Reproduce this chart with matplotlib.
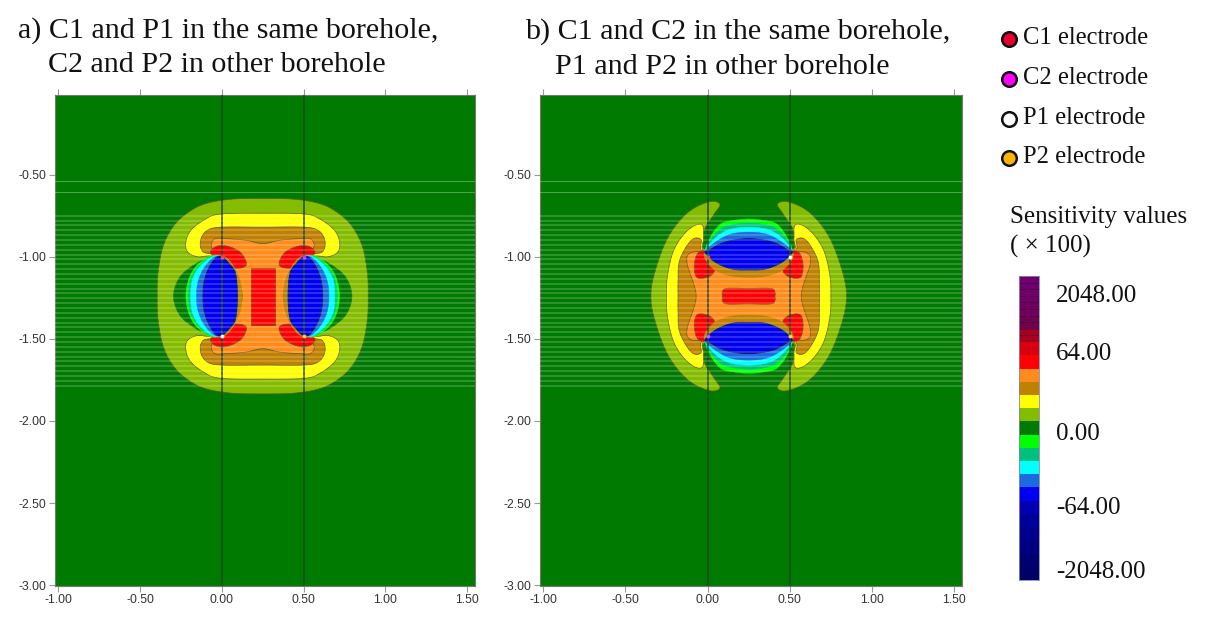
"""Borehole sensitivity sections for two electrode arrangements."""

import matplotlib

matplotlib.use("Agg")
import matplotlib.pyplot as plt
import numpy as np
from matplotlib.colors import ListedColormap

plt.rcParams["font.family"] = ["Liberation Serif", "DejaVu Serif"]

X_TICKS = [-1.0, -0.5, 0.0, 0.5, 1.0, 1.5]
Y_TICKS = [-0.5, -1.0, -1.5, -2.0, -2.5, -3.0]
BOREHOLES = [0.0, 0.5]
CENTER_A = (0.25, -1.24)
CENTER_B = (0.25, -1.24)

C_BG = "#007a00"
C_LIME = "#84bd00"
C_YELLOW = "#ffff00"
C_BROWN = "#c08000"
C_ORANGE = "#ff8c1a"
C_RED = "#ff0000"
C_GREEN = "#00ff00"
C_TEAL = "#00c080"
C_CYAN = "#00ffff"
C_MIDBLUE = "#1a6ae0"
C_BLUE = "#0000f0"

# contour outlines of one quadrant, as offsets (dx, dy) from the section centre
A_LIME = [(0, .595), (.2, .59), (.36, .56), (.47, .50), (.55, .42), (.61, .30), (.64, .14), (.645, 0)]
A_YELLOW = [(0, .505), (.26, .50), (.357, .465), (.44, .40), (.47, .33), (.46, .27), (.40, .24), (.28, .225), (.15, 0)]
A_BROWN = [(0, .42), (.25, .42), (.34, .40), (.38, .34), (.365, .27), (.27, .23), (.13, 0)]
A_ORANGE = [(0, .32), (.10, .34), (.22, .35), (.29, .35), (.315, .31), (.285, .26), (.19, .15), (.125, 0)]
A_RED_LOBE = [(.10, .19), (.14, .27), (.25, .31), (.32, .27), (.26, .20), (.17, .17)]
A_RED_BAR = [(0, .173), (.073, .173), (.073, 0)]

# half of a side lens, from its inner edge over the electrode tip to its outer edge
A_INNER = [(.155, 0), (.167, .14), (.207, .20), (.25, .24)]
A_LENS_BROWN = [(.125, 0), (.14, .10), (.19, .20), (.25, .245), (.32, .2), (.32, 0)]
A_LENS_DARK = A_INNER + [(.325, .23), (.405, .20), (.506, .118), (.546, 0)]
A_LENS_GREEN = A_INNER + [(.32, .245), (.40, .19), (.45, .11), (.47, 0)]
A_LENS_TEAL = A_INNER + [(.315, .24), (.39, .185), (.44, .105), (.455, 0)]
A_LENS_CYAN = A_INNER + [(.31, .24), (.385, .18), (.43, .10), (.44, 0)]
A_LENS_MIDBLUE = A_INNER + [(.30, .235), (.36, .17), (.395, .09), (.405, 0)]
A_LENS_BLUE = A_INNER + [(.29, .23), (.335, .16), (.36, .08), (.365, 0)]

B_LIME = [(0, .25), (.26, .28), (.27, .40), (.21, .50), (.175, .56), (.24, .575), (.37, .51), (.49, .36), (.57, .15), (.595, 0)]
B_YELLOW = [(0, .25), (.26, .27), (.275, .35), (.28, .43), (.33, .43), (.40, .37), (.46, .27), (.495, .12), (.50, 0)]
B_BROWN = [(0, .25), (.27, .27), (.29, .345), (.35, .34), (.42, .22), (.43, .09), (.43, 0)]
B_ORANGE = [(0, .25), (.27, .27), (.36, .26), (.375, .20), (.33, .06), (.32, 0)]
B_RED_LOBE = [(.21, .27), (.30, .27), (.33, .20), (.32, .12), (.27, .11), (.21, .15)]
B_RED_BAR = [(0, .047), (.135, .047), (.16, .025), (.16, 0)]

# half of a top lens, from its lower edge over the electrode tip to its upper edge
B_INNER = [(0, .16), (.10, .165), (.20, .205), (.265, .265)]
B_LENS_BROWN = [(0, .115), (.12, .125), (.22, .17), (.27, .26), (.15, .30), (0, .30)]
B_LENS_GREEN = B_INNER + [(.23, .365), (.17, .44), (.10, .46), (0, .47)]
B_LENS_TEAL = B_INNER + [(.232, .345), (.17, .41), (.10, .435), (0, .445)]
B_LENS_CYAN = B_INNER + [(.235, .32), (.17, .38), (.10, .41), (0, .42)]
B_LENS_MIDBLUE = B_INNER + [(.24, .30), (.17, .35), (.10, .38), (0, .39)]
B_LENS_BLUE = B_INNER + [(.24, .28), (.17, .32), (.10, .34), (0, .35)]

ELECTRODES_A = [(0.0, -1.0, "#e0405a"), (0.5, -1.0, "#d030ff"), (0.0, -1.48, "#ffffff"), (0.5, -1.48, "#ffc040")]
ELECTRODES_B = [(0.0, -1.0, "#e04050"), (0.5, -1.0, "#ffffff"), (0.0, -1.48, "#e030ff"), (0.5, -1.48, "#ffc040")]

BAR_COLORS = ["#000068", "#000070", "#000080", "#00008c", "#000098", "#0000b0", "#0000f0", C_MIDBLUE,
              C_CYAN, C_TEAL, C_GREEN, C_BG, C_LIME, C_YELLOW, C_BROWN, C_ORANGE, C_RED, "#d80010",
              "#a80020", "#700050", "#700060", "#700068", "#700070"]
BAR_LABELS = ["-2048.00", "-64.00", "0.00", "64.00", "2048.00"]
BAR_LABEL_POS = [0.8, 5.6, 11.2, 17.3, 21.7]

LEGEND_NAMES = ["C1 electrode", "C2 electrode", "P1 electrode", "P2 electrode"]
LEGEND_COLORS = ["#e6002d", "#ff00ff", "#ffffff", "#ffb400"]


def smooth(points, steps=8):
    # closed Catmull-Rom curve through the outline points
    pts = np.array(points, dtype=float)
    keep = np.linalg.norm(pts - np.roll(pts, 1, axis=0), axis=1) > 1e-6
    pts = pts[keep]
    t = np.linspace(0, 1, steps, endpoint=False)[:, None]
    out = []
    for i in range(len(pts)):
        p0, p1, p2, p3 = pts[i - 1], pts[i], pts[(i + 1) % len(pts)], pts[(i + 2) % len(pts)]
        out.append(0.5 * (2 * p1 + (p2 - p0) * t + (2 * p0 - 5 * p1 + 4 * p2 - p3) * t ** 2
                          + (3 * p1 - p0 - 3 * p2 + p3) * t ** 3))
    return np.vstack(out)


def fill(ax, pts, color, edge="#5a5a20", lw=0.5):
    pts = smooth(pts)
    ax.fill(pts[:, 0], pts[:, 1], facecolor=color, edgecolor=edge, lw=lw, zorder=2)


def quad(ax, center, outline, color):
    # same outline in all four quadrants, drawn as one shape
    q = np.array(outline, dtype=float)
    pts = np.vstack([q, q[::-1] * [1, -1], q * [-1, -1], q[::-1] * [-1, 1]])
    fill(ax, pts + center, color)


def lobes(ax, center, outline, color):
    for sx in (1, -1):
        for sy in (1, -1):
            fill(ax, np.array(outline) * [sx, sy] + center, color)


def rect(ax, center, outline, color):
    # sharp corners, no curve
    q = np.array(outline, dtype=float)
    pts = np.vstack([q, q[::-1] * [1, -1], q * [-1, -1], q[::-1] * [-1, 1]]) + center
    ax.fill(pts[:, 0], pts[:, 1], facecolor=color, edgecolor="#7a3c14", lw=0.5, zorder=2)


def lens_side(ax, center, half, color, edge=None):
    h = np.array(half, dtype=float)
    pts = np.vstack([h, h[::-1] * [1, -1]])
    for sx in (1, -1):
        fill(ax, pts * [sx, 1] + center, color, edge=edge or color, lw=0.6 if edge else 0.3)


def lens_top(ax, center, half, color, edge=None):
    h = np.array(half, dtype=float)
    pts = np.vstack([h, h[::-1] * [-1, 1]])
    for sy in (1, -1):
        fill(ax, pts * [1, sy] + center, color, edge=edge or color, lw=0.6 if edge else 0.3)


def base_axes(fig, left, right):
    w, h = fig.get_size_inches() * fig.dpi
    ax = fig.add_axes([left / w, 1 - 586 / h, (right - left) / w, (586 - 95) / h])
    ax.set_facecolor(C_BG)
    ax.set_xticks(X_TICKS)
    ax.set_yticks(Y_TICKS)
    ax.set_xticklabels([f"{v:.2f}" for v in X_TICKS], family="Liberation Sans", fontsize=8.8, color="#333333")
    ax.set_yticklabels([f"{v:.2f}" for v in Y_TICKS], family="Liberation Sans", fontsize=8.8, color="#333333")
    ax.tick_params(length=4, width=0.8, color="#999999", top=True, pad=2)
    for s in ax.spines.values():
        s.set_color("#777777")
        s.set_linewidth(0.8)
    ax.set_xlim(-1.02, 1.548)
    ax.set_ylim(-3.005, -0.015)
    return ax


def finish(ax, electrodes):
    for x in BOREHOLES:
        ax.axvline(x, color="#1c4a1c", lw=1.1, zorder=3)
    for x, y, c in electrodes:
        ax.plot(x, y, "o", ms=2.8, color=c, mec="none", zorder=4)
    # scan lines of the source picture
    for y in [-0.537, -0.603]:
        ax.axhline(y, color="#ffffff", alpha=0.3, lw=0.8, zorder=5)
    for y in np.linspace(-0.75, -1.785, 36):
        ax.axhline(y, color="#ffffff", alpha=0.2, lw=1.3, zorder=5)


fig = plt.figure(figsize=(12.08, 6.21), dpi=100)

ax_a = base_axes(fig, 55, 475)
for outline, color in [(A_LIME, C_LIME), (A_YELLOW, C_YELLOW), (A_BROWN, C_BROWN), (A_ORANGE, C_ORANGE)]:
    quad(ax_a, CENTER_A, outline, color)
lobes(ax_a, CENTER_A, A_RED_LOBE, C_RED)
rect(ax_a, CENTER_A, A_RED_BAR, C_RED)
for half, color in [(A_LENS_BROWN, C_BROWN), (A_LENS_DARK, C_BG), (A_LENS_GREEN, C_GREEN), (A_LENS_TEAL, C_TEAL),
                    (A_LENS_CYAN, C_CYAN), (A_LENS_MIDBLUE, C_MIDBLUE)]:
    lens_side(ax_a, CENTER_A, half, color)
lens_side(ax_a, CENTER_A, A_LENS_BLUE, C_BLUE, edge="#101840")
finish(ax_a, ELECTRODES_A)

ax_b = base_axes(fig, 540, 962)
for outline, color in [(B_LIME, C_LIME), (B_YELLOW, C_YELLOW), (B_BROWN, C_BROWN), (B_ORANGE, C_ORANGE)]:
    quad(ax_b, CENTER_B, outline, color)
lobes(ax_b, CENTER_B, B_RED_LOBE, C_RED)
quad(ax_b, CENTER_B, B_RED_BAR, C_RED)
for half, color in [(B_LENS_BROWN, C_BROWN), (B_LENS_GREEN, C_GREEN), (B_LENS_TEAL, C_TEAL), (B_LENS_CYAN, C_CYAN),
                    (B_LENS_MIDBLUE, C_MIDBLUE)]:
    lens_top(ax_b, CENTER_B, half, color)
lens_top(ax_b, CENTER_B, B_LENS_BLUE, C_BLUE, edge="#101840")
finish(ax_b, ELECTRODES_B)

# titles and key, placed in pixels of the whole figure
overlay = fig.add_axes([0, 0, 1, 1], zorder=10)
overlay.set_xlim(0, 1208)
overlay.set_ylim(621, 0)
overlay.axis("off")
TITLE = dict(fontsize=21.6, color="#111111", va="center")
overlay.text(18, 31, "a) C1 and P1 in the same borehole,", **TITLE)
overlay.text(48, 65, "C2 and P2 in other borehole", **TITLE)
overlay.text(525, 32, "b) C1 and C2 in the same borehole,", **TITLE)
overlay.text(555, 67, "P1 and P2 in other borehole", **TITLE)
for y, name, color in zip([39, 79, 119, 158], LEGEND_NAMES, LEGEND_COLORS):
    overlay.plot(1009, y, "o", ms=10.5, mfc=color, mec="#111111", mew=1.8)
    overlay.text(1023, y - 1, name, fontsize=17.7, color="#111111", va="center")
overlay.text(1010, 217, "Sensitivity values", fontsize=18, color="#111111", va="center")
overlay.text(1010, 246, "( × 100)", fontsize=18, color="#111111", va="center")

w, h = fig.get_size_inches() * fig.dpi
ax_bar = fig.add_axes([1019 / w, 1 - 580 / h, 20 / w, 304 / h])
idx = np.arange(len(BAR_COLORS) + 1)
ax_bar.pcolormesh([0, 1], idx, np.arange(len(BAR_COLORS)).reshape(-1, 1), cmap=ListedColormap(BAR_COLORS),
                  vmin=-0.5, vmax=len(BAR_COLORS) - 0.5, edgecolors="none")
ax_bar.hlines(np.arange(18.5, 23, 0.5), 0, 1, color="#200020", alpha=0.35, lw=0.8)
ax_bar.set_xticks([])
ax_bar.set_yticks(BAR_LABEL_POS)
ax_bar.set_yticklabels(BAR_LABELS, fontsize=18, color="#111111")
ax_bar.yaxis.tick_right()
ax_bar.tick_params(length=0, pad=12)
for s in ax_bar.spines.values():
    s.set_color("#8888aa")
    s.set_linewidth(0.6)

fig.savefig("out.png", dpi=100)
